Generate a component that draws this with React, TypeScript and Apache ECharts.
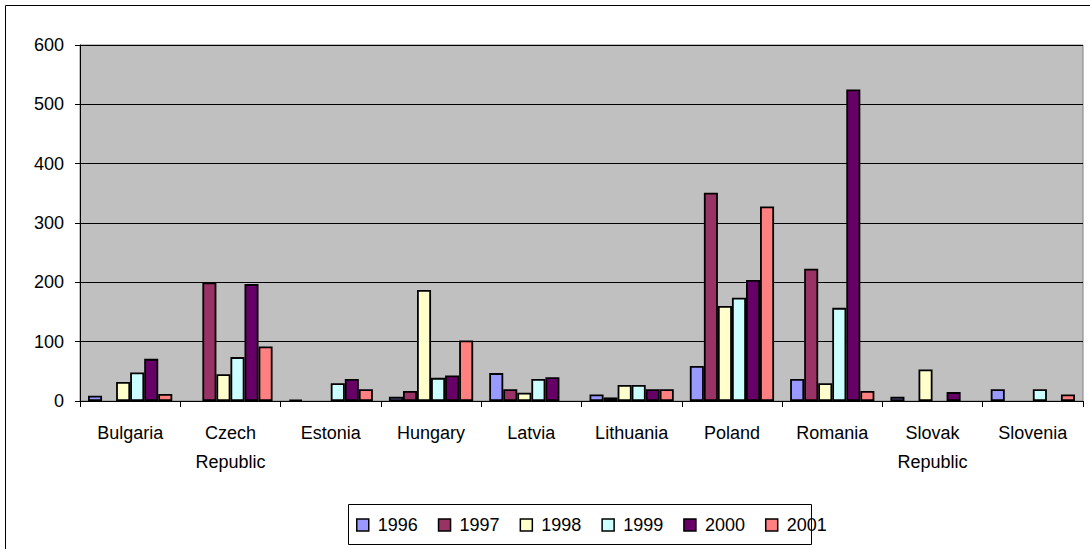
import React, { useEffect, useRef } from "react";
import * as echarts from "echarts";

const categories = [
  "Bulgaria",
  "Czech\nRepublic",
  "Estonia",
  "Hungary",
  "Latvia",
  "Lithuania",
  "Poland",
  "Romania",
  "Slovak\nRepublic",
  "Slovenia",
];

const years = ["1996", "1997", "1998", "1999", "2000", "2001"];

const v1996 = [9, 0, 2, 7, 47, 11, 59, 37, 7, 20];
const v1997 = [0, 200, 0, 17, 20, 6, 351, 223, 0, 0];
const v1998 = [32, 45, 0, 187, 14, 27, 160, 30, 53, 0];
const v1999 = [48, 74, 30, 39, 37, 27, 174, 157, 0, 20];
const v2000 = [71, 197, 37, 43, 40, 20, 204, 525, 15, 0];
const v2001 = [12, 92, 20, 102, 0, 20, 328, 17, 0, 11];

const seriesValues = [v1996, v1997, v1998, v1999, v2000, v2001];
const colors = ["#9999FF", "#993366", "#FFFFCC", "#CCFFFF", "#660066", "#FF8080"];

const yTicks = [0, 100, 200, 300, 400, 500, 600];

const FONT = "Liberation Sans, Arial, sans-serif";

export default function App() {
  const ref = useRef<HTMLDivElement>(null);

  useEffect(() => {
    if (!ref.current) return;
    const chart = echarts.init(ref.current, null, { renderer: "svg" });
    chart.setOption({
      animation: false,
      backgroundColor: "#ffffff",
      textStyle: { fontFamily: FONT },
      graphic: [
        {
          type: "rect",
          shape: { x: 5.5, y: 5.5, width: 1090, height: 560 },
          style: { fill: "none", stroke: "#000", lineWidth: 1 },
          silent: true,
          z: -10,
        },
        {
          type: "rect",
          shape: { x: 348.5, y: 504.5, width: 463, height: 40 },
          style: { fill: "#fff", stroke: "#000", lineWidth: 1 },
          silent: true,
          z: -5,
        },
      ],
      grid: {
        left: 80,
        top: 45,
        width: 1003,
        height: 356,
        show: true,
        backgroundColor: "#C0C0C0",
        borderColor: "#808080",
        borderWidth: 1,
      },
      legend: {
        data: years,
        left: 356,
        top: 516,
        padding: 0,
        orient: "horizontal",
        itemWidth: 12,
        itemHeight: 12,
        itemGap: 20,
        icon: "rect",
        itemStyle: { borderColor: "#000", borderWidth: 1.5 },
        textStyle: { fontSize: 18, color: "#000", fontFamily: FONT, padding: [0, 0, 0, 4] },
      },
      xAxis: {
        type: "category",
        data: categories,
        boundaryGap: true,
        axisLine: { show: true, lineStyle: { color: "#000", width: 1 } },
        axisTick: { show: true, alignWithLabel: false, length: 6, lineStyle: { color: "#000" } },
        axisLabel: {
          color: "#000",
          fontSize: 18,
          fontFamily: FONT,
          margin: 17,
          lineHeight: 29,
          interval: 0,
        },
      },
      yAxis: {
        type: "value",
        min: yTicks[0],
        max: yTicks[yTicks.length - 1],
        interval: 100,
        axisLine: { show: true, lineStyle: { color: "#000", width: 1 } },
        axisTick: { show: true, length: 5, lineStyle: { color: "#000" } },
        axisLabel: { color: "#000", fontSize: 18, fontFamily: FONT, margin: 16 },
        splitLine: { show: true, lineStyle: { color: "#000", width: 1 } },
      },
      series: years.map((y, i) => ({
        name: y,
        type: "bar",
        barGap: "0%",
        barCategoryGap: "16%",
        data: seriesValues[i].map((v) => (v === 0 ? null : v)),
        itemStyle: { color: colors[i], borderColor: "#000", borderWidth: 1.8 },
      })),
    });
    return () => chart.dispose();
  }, []);

  return (
    <div
      ref={ref}
      style={{ position: "fixed", left: 0, top: 0, width: 1090, height: 549 }}
    />
  );
}
